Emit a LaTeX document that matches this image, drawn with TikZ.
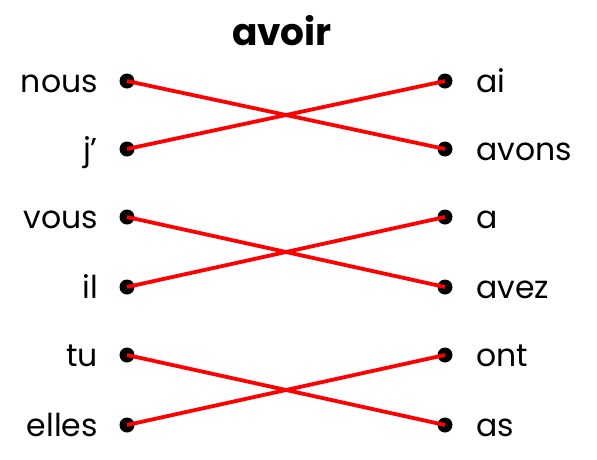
\documentclass[tikz,border=0pt]{standalone}
\usepackage{fontspec}
\setmainfont{Poppins}
\begin{document}
\begin{tikzpicture}[x=1pt,y=1pt,
  dot/.style={circle,fill=black,inner sep=0pt,minimum size=15pt},
  lword/.style={anchor=base east,inner sep=0pt,font=\fontsize{31.5}{36}\selectfont},
  rword/.style={anchor=base west,inner sep=0pt,font=\fontsize{31.5}{36}\selectfont},
  link/.style={draw=red,line width=3.8pt}]
\useasboundingbox (0,0) rectangle (597,-459);
\node[anchor=base,inner sep=0pt,font=\fontsize{37.5}{42}\selectfont\bfseries] (title) at (282,-45) {avoir};
% left dots and words
\foreach \n/\t/\y in {l1/nous/81,l2/j’/149,l3/vous/217,l4/il/287,l5/tu/355,l6/elles/425}{
  \node[dot] (\n) at (127,-\y) {};
  \node[lword] (\n w) at (98,-\y-11) {\t};
}
\foreach \n/\t/\y in {r1/ai/81,r2/avons/149,r3/a/217,r4/avez/287,r5/ont/355,r6/as/425}{
  \node[dot] (\n) at (445,-\y) {};
  \node[rword] (\n w) at (476,-\y-11) {\t};
}
\draw[link] (l1.center) -- (r2.center);
\draw[link] (l2.center) -- (r1.center);
\draw[link] (l3.center) -- (r4.center);
\draw[link] (l4.center) -- (r3.center);
\draw[link] (l5.center) -- (r6.center);
\draw[link] (l6.center) -- (r5.center);
\end{tikzpicture}
\end{document}
